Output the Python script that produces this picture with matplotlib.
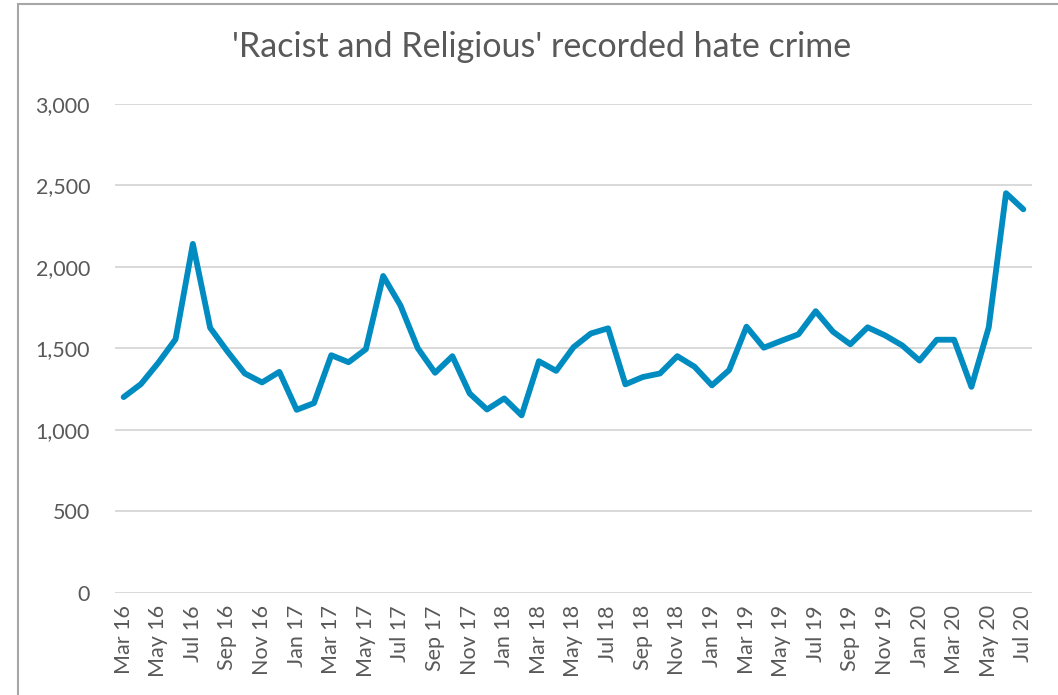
import matplotlib.pyplot as plt
from matplotlib.patches import Rectangle

# monthly recorded 'Racist and Religious' hate crime, Mar 2016 - Jul 2020
months = ['Mar 16', 'Apr 16', 'May 16', 'Jun 16', 'Jul 16', 'Aug 16', 'Sep 16', 'Oct 16',
          'Nov 16', 'Dec 16', 'Jan 17', 'Feb 17', 'Mar 17', 'Apr 17', 'May 17', 'Jun 17',
          'Jul 17', 'Aug 17', 'Sep 17', 'Oct 17', 'Nov 17', 'Dec 17', 'Jan 18', 'Feb 18',
          'Mar 18', 'Apr 18', 'May 18', 'Jun 18', 'Jul 18', 'Aug 18', 'Sep 18', 'Oct 18',
          'Nov 18', 'Dec 18', 'Jan 19', 'Feb 19', 'Mar 19', 'Apr 19', 'May 19', 'Jun 19',
          'Jul 19', 'Aug 19', 'Sep 19', 'Oct 19', 'Nov 19', 'Dec 19', 'Jan 20', 'Feb 20',
          'Mar 20', 'Apr 20', 'May 20', 'Jun 20', 'Jul 20']
crimes = [1200, 1280, 1410, 1555, 2140, 1625, 1480, 1345,
          1290, 1355, 1122, 1163, 1457, 1414, 1494, 1943,
          1762, 1500, 1349, 1451, 1222, 1124, 1192, 1088,
          1420, 1361, 1506, 1590, 1622, 1278, 1323, 1345,
          1451, 1386, 1272, 1366, 1632, 1503, 1545, 1585,
          1727, 1601, 1524, 1628, 1579, 1517, 1424, 1552,
          1552, 1263, 1628, 2451, 2352]
yticks = [0, 500, 1000, 1500, 2000, 2500, 3000]

text_col = '#595959'
plt.rcParams['font.family'] = ['Lato', 'DejaVu Sans']

fig = plt.figure(figsize=(10.58, 6.95), dpi=100)
ax = fig.add_axes([0.1087, 0.1472, 0.8667, 0.7036])

ax.plot(range(len(crimes)), crimes, color='#008cc1', linewidth=4.2,
        solid_joinstyle='round', solid_capstyle='round', zorder=3)

ax.set_xlim(-0.5, len(crimes) - 0.5)
ax.set_ylim(0, 3000)
ax.set_yticks(yticks)
ax.set_yticklabels([f'{v:,}' for v in yticks])
ax.set_xticks(range(0, len(months), 2))
ax.set_xticklabels(months[::2], rotation=90)
ax.tick_params(axis='both', length=0, labelsize=15.5, colors=text_col)
ax.tick_params(axis='y', pad=18)
ax.tick_params(axis='x', pad=9)

ax.grid(axis='y', color='#d9d9d9', linewidth=1.4)
ax.set_axisbelow(True)
for s in ax.spines.values():
    s.set_visible(False)

fig.text(0.512, 0.932, "'Racist and Religious' recorded hate crime",
         ha='center', va='center', fontsize=24.5, color=text_col)

# chart area frame
fig.patches.append(Rectangle((18 / 1058, -0.1), 1.2, 1 - 4.5 / 695 + 0.1,
                             transform=fig.transFigure, fill=False,
                             edgecolor='#a6a6a6', linewidth=1.5))

fig.savefig('out.png', dpi=100)
